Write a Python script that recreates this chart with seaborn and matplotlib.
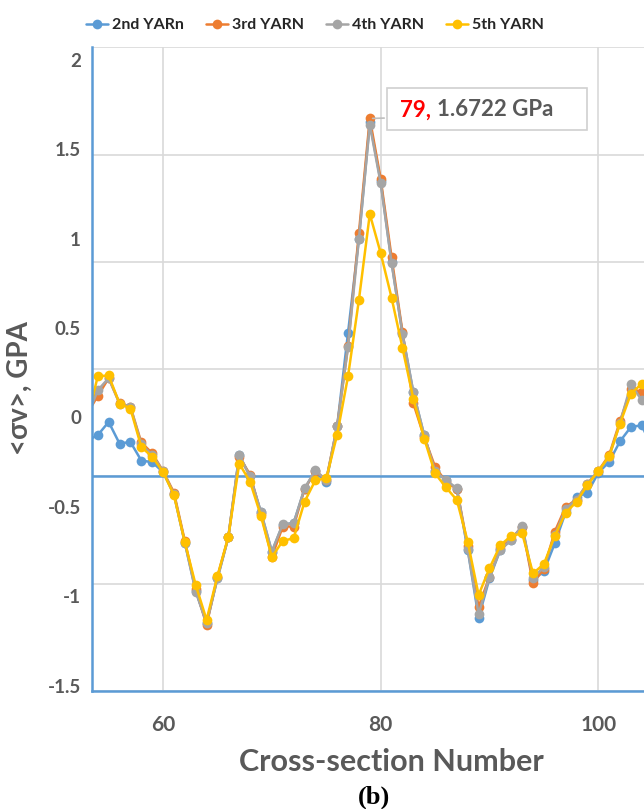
import numpy as np
import pandas as pd
import matplotlib
matplotlib.use("Agg")
import matplotlib.pyplot as plt
import matplotlib.patches as patches
from matplotlib.ticker import FixedLocator
import seaborn as sns

# cross-section numbers and mean stress per yarn (GPa)
section = list(range(53, 106))

yarn2 = [-0.13, -0.099, -0.025, -0.146, -0.137, -0.241, -0.250, -0.305, -0.43, -0.70,
         -0.97, -1.15, -0.90, -0.67, -0.21, -0.33, -0.53, -0.75, -0.60, -0.59,
         -0.40, -0.30, -0.36, -0.05, 0.474, 1.00, 1.65, 1.32, 0.87, 0.47,
         0.14, -0.10, -0.30, -0.35, -0.40, -0.74, -1.12, -0.90, -0.74, -0.685,
         -0.61, -0.91, -0.86, -0.704, -0.53, -0.444, -0.421, -0.31, -0.248, -0.133,
         -0.053, -0.044, -0.18]
yarn3 = [0.02, 0.12, 0.22, 0.08, 0.06, -0.14, -0.20, -0.30, -0.42, -0.69,
         -0.96, -1.16, -0.89, -0.67, -0.22, -0.32, -0.54, -0.78, -0.61, -0.61,
         -0.40, -0.30, -0.35, -0.05, 0.40, 1.032, 1.6722, 1.334, 0.896, 0.48,
         0.079, -0.11, -0.276, -0.36, -0.40, -0.72, -1.06, -0.89, -0.73, -0.68,
         -0.61, -0.928, -0.845, -0.639, -0.50, -0.46, -0.37, -0.30, -0.21, -0.02,
         0.16, 0.143, 0.12]
yarn4 = [0.0, 0.152, 0.22, 0.078, 0.06, -0.15, -0.21, -0.30, -0.43, -0.70,
         -0.974, -1.15, -0.90, -0.67, -0.211, -0.33, -0.53, -0.751, -0.596, -0.593,
         -0.397, -0.295, -0.351, -0.049, 0.394, 0.999, 1.637, 1.31, 0.865, 0.468,
         0.143, -0.10, -0.30, -0.351, -0.397, -0.738, -1.10, -0.89, -0.74, -0.685,
         -0.606, -0.90, -0.835, -0.66, -0.51, -0.46, -0.37, -0.30, -0.22, -0.03,
         0.185, 0.096, 0.05]
yarn5 = [-0.02, 0.23, 0.235, 0.078, 0.050, -0.165, -0.220, -0.305, -0.434, -0.698,
         -0.937, -1.132, -0.887, -0.667, -0.258, -0.360, -0.552, -0.782, -0.690, -0.676,
         -0.472, -0.351, -0.341, -0.096, 0.230, 0.658, 1.138, 0.919, 0.67, 0.39,
         0.105, -0.118, -0.313, -0.391, -0.462, -0.695, -0.993, -0.843, -0.714, -0.663,
         -0.648, -0.872, -0.820, -0.663, -0.533, -0.472, -0.378, -0.300, -0.217, -0.034,
         0.133, 0.189, 0.19]

names = ["2nd YARn", "3rd YARN", "4th YARN", "5th YARN"]
colors = ["#5B9BD5", "#ED7D31", "#A5A5A5", "#FFC000"]
y_ticks = [2, 1.5, 1, 0.5, 0, -0.5, -1, -1.5]
y_tick_labels = ["2", "1.5", "1", "0.5", "0", "-0.5", "-1", "-1.5"]
x_ticks = [60, 80, 100]
peak_x, peak_y = 79, 1.6722

df = pd.DataFrame({"section": section, names[0]: yarn2, names[1]: yarn3,
                   names[2]: yarn4, names[3]: yarn5})
df = df.melt(id_vars="section", var_name="yarn", value_name="stress")

sns.set_style("white")
plt.rcParams["font.family"] = ["Lato", "DejaVu Sans"]

fig = plt.figure(figsize=(6.44, 8.09), dpi=100)
ax = fig.add_axes([92 / 644, 1 - 691 / 809, 1 - 92 / 644, (691 - 47) / 809])

sns.lineplot(data=df, x="section", y="stress", hue="yarn", hue_order=names,
             palette=colors, marker="o", markersize=7, markeredgewidth=0,
             linewidth=1.8, ax=ax)

ax.set_xlim(53.47, 104.2)
ax.set_ylim(-1.53, 2.072)

# gridlines of the original chart do not sit on the labelled ticks
ax.set_yticks(y_ticks)
ax.set_yticklabels(y_tick_labels)
ax.yaxis.set_minor_locator(FixedLocator([-1.53, -0.93, -0.33, 0.27, 0.87, 1.47, 2.07]))
ax.set_xticks(x_ticks)
ax.grid(which="minor", axis="y", color="#D9D9D9", lw=1.2)
ax.grid(which="major", axis="y", visible=False)
ax.grid(which="major", axis="x", color="#D9D9D9", lw=1.2)
ax.set_axisbelow(True)
ax.tick_params(which="both", length=0)
ax.tick_params(axis="y", pad=8, labelsize=13.5, labelcolor="#595959")
ax.tick_params(axis="x", pad=17, labelsize=15, labelcolor="#595959")
for lab in ax.get_xticklabels() + ax.get_yticklabels():
    lab.set_fontweight("bold")

ax.axhline(-0.33, color="#5B9BD5", lw=1.8, zorder=1.5)
for s in ["top", "right"]:
    ax.spines[s].set_visible(False)
for s in ["left", "bottom"]:
    ax.spines[s].set_color("#5B9BD5")
    ax.spines[s].set_linewidth(1.8)

ax.set_xlabel("")
ax.set_ylabel("")
fig.text(391 / 644, 1 - 762 / 809, "Cross-section Number", ha="center", va="center",
         fontsize=22, fontweight="bold", color="#595959")
fig.text(20 / 644, 1 - 388 / 809, "<σv>, GPA", ha="center", va="center", rotation=90,
         fontsize=20, fontweight="bold", color="#595959")
fig.text(374 / 644, 1 - 797 / 809, "(b)", ha="center", va="center", fontsize=19,
         fontweight="bold", family="Liberation Serif", color="black")

# legend across the top
handles, labels = ax.get_legend_handles_labels()
ax.get_legend().remove()
leg = fig.legend(handles, labels, loc="center left", bbox_to_anchor=(86 / 644, 1 - 25 / 809),
                 ncol=4, frameon=False, handlelength=1.4, handletextpad=0.25,
                 columnspacing=1.35, borderpad=0, borderaxespad=0,
                 prop={"weight": "bold", "size": 11.5})
for t in leg.get_texts():
    t.set_color("#262626")

# callout for the peak
box = patches.Rectangle((387 / 644, 1 - 130 / 809), 200 / 644, 42 / 809,
                        transform=fig.transFigure, fc="white", ec="#D0D0D0", lw=1.2, zorder=5)
fig.add_artist(box)
ax.annotate("", xy=(peak_x, peak_y), xytext=(387 / 644, 1 - 118 / 809),
            textcoords="figure fraction",
            arrowprops=dict(arrowstyle="-", color="#BFBFBF", lw=1.2))
fig.text(400 / 644, 1 - 110 / 809, f"{peak_x},", ha="left", va="center", fontsize=16,
         fontweight="bold", color="red", zorder=6)
fig.text(437 / 644, 1 - 110 / 809, f"{peak_y:.4f} GPa", ha="left", va="center",
         fontsize=16, fontweight="bold", color="#595959", zorder=6)

fig.savefig("out.png", dpi=100)
